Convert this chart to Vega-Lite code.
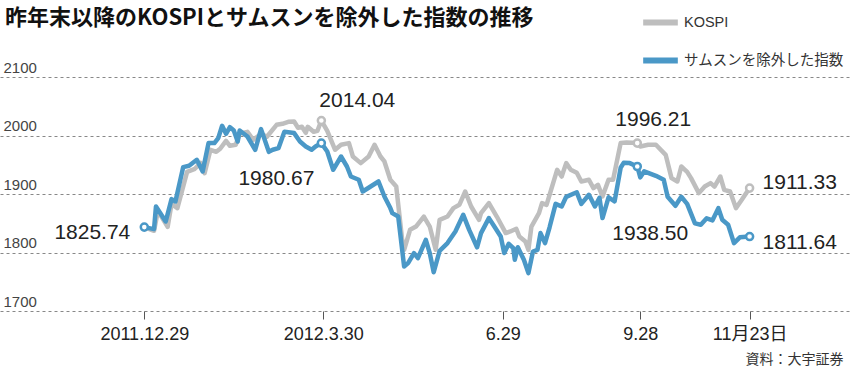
{
  "$schema": "https://vega.github.io/schema/vega-lite/v6.json",
  "width": 850,
  "height": 234,
  "autosize": {"type": "none"},
  "padding": {"left": 0, "top": 77, "right": 0, "bottom": 60},
  "background": "white",
  "config": {"view": {"stroke": null}, "font": "Liberation Sans"},
  "title": {
    "text": "昨年末以降のKOSPIとサムスンを除外した指数の推移",
    "anchor": "start",
    "frame": "group",
    "orient": "top",
    "font": "Noto Sans CJK JP",
    "fontSize": 22,
    "fontWeight": "bold",
    "color": "#111111",
    "offset": 0,
    "dx": 5,
    "dy": 28
  },
  "datasets": {
    "kospi": [
      {"day": 0, "value": 1843.4}, {"day": 5, "value": 1837.1}, {"day": 7, "value": 1871.3}, {"day": 12, "value": 1843.9},
      {"day": 14, "value": 1883.2}, {"day": 17, "value": 1875.9}, {"day": 22, "value": 1937.9}, {"day": 26, "value": 1943.1},
      {"day": 29, "value": 1953.3}, {"day": 31, "value": 1935.7}, {"day": 34, "value": 1975.6}, {"day": 37, "value": 1972.1},
      {"day": 39, "value": 1977.3}, {"day": 42, "value": 1990.9}, {"day": 44, "value": 1982.4}, {"day": 47, "value": 1984.1},
      {"day": 49, "value": 2002.9}, {"day": 53, "value": 2006.3}, {"day": 56, "value": 1992.6}, {"day": 60, "value": 2002.9},
      {"day": 63, "value": 1997.8}, {"day": 68, "value": 2018.3}, {"day": 71, "value": 2020.0}, {"day": 74, "value": 2023.4},
      {"day": 77, "value": 2023.9}, {"day": 79, "value": 2013.2}, {"day": 81, "value": 2014.9}, {"day": 83, "value": 2004.6},
      {"day": 84, "value": 2014.9}, {"day": 87, "value": 2006.3}, {"day": 89, "value": 2008.0},
      {"day": 91, "value": 2025.6, "label": "2014.04"},
      {"day": 94, "value": 2008.0}, {"day": 98, "value": 1975.6}, {"day": 101, "value": 1984.1}, {"day": 105, "value": 1987.0},
      {"day": 107, "value": 1964.1}, {"day": 111, "value": 1952.8}, {"day": 115, "value": 1964.1}, {"day": 118, "value": 1984.1},
      {"day": 121, "value": 1964.1}, {"day": 123, "value": 1955.6}, {"day": 126, "value": 1924.3}, {"day": 129, "value": 1912.8},
      {"day": 132, "value": 1821.7}, {"day": 133, "value": 1804.6}, {"day": 136, "value": 1838.8}, {"day": 139, "value": 1844.4},
      {"day": 143, "value": 1861.5}, {"day": 146, "value": 1844.4}, {"day": 149, "value": 1804.6}, {"day": 151, "value": 1855.9},
      {"day": 155, "value": 1861.5}, {"day": 158, "value": 1875.9}, {"day": 161, "value": 1881.5}, {"day": 164, "value": 1904.3},
      {"day": 167, "value": 1878.6}, {"day": 171, "value": 1855.9}, {"day": 172, "value": 1867.4}, {"day": 176, "value": 1884.4},
      {"day": 180, "value": 1861.5}, {"day": 185, "value": 1833.2}, {"day": 188, "value": 1835.9}, {"day": 192, "value": 1840.5},
      {"day": 194, "value": 1827.4}, {"day": 198, "value": 1818.8}, {"day": 200, "value": 1804.6}, {"day": 202, "value": 1844.4},
      {"day": 207, "value": 1867.4}, {"day": 209, "value": 1884.4}, {"day": 212, "value": 1881.5}, {"day": 215, "value": 1907.2},
      {"day": 219, "value": 1941.4}, {"day": 222, "value": 1929.9}, {"day": 225, "value": 1952.8}, {"day": 228, "value": 1941.4},
      {"day": 232, "value": 1936.2}, {"day": 235, "value": 1921.4}, {"day": 240, "value": 1924.3}, {"day": 243, "value": 1910.1},
      {"day": 246, "value": 1915.7}, {"day": 249, "value": 1895.7}, {"day": 253, "value": 1924.3}, {"day": 256, "value": 1924.3},
      {"day": 261, "value": 1987.0}, {"day": 265, "value": 1988.0},
      {"day": 272, "value": 1987.0, "label": "1996.21"},
      {"day": 274, "value": 1981.2}, {"day": 278, "value": 1984.1}, {"day": 282, "value": 1984.1}, {"day": 287, "value": 1967.0},
      {"day": 290, "value": 1927.2}, {"day": 293, "value": 1921.4}, {"day": 295, "value": 1947.0}, {"day": 298, "value": 1937.9},
      {"day": 300, "value": 1927.2}, {"day": 304, "value": 1901.5}, {"day": 307, "value": 1912.8}, {"day": 310, "value": 1918.6},
      {"day": 312, "value": 1912.8}, {"day": 315, "value": 1929.9}, {"day": 317, "value": 1907.2}, {"day": 320, "value": 1904.3},
      {"day": 323, "value": 1875.9}, {"day": 326, "value": 1890.1},
      {"day": 330, "value": 1910.1, "label": "1911.33"}
    ],
    "ex": [
      {"day": 0, "value": 1843.4, "label": "1825.74"},
      {"day": 5, "value": 1840.0}, {"day": 6, "value": 1878.6}, {"day": 11, "value": 1853.0}, {"day": 14, "value": 1891.3},
      {"day": 16, "value": 1887.2}, {"day": 20, "value": 1946.0}, {"day": 23, "value": 1948.2}, {"day": 27, "value": 1958.5},
      {"day": 30, "value": 1938.5}, {"day": 33, "value": 1987.0}, {"day": 36, "value": 1987.0}, {"day": 38, "value": 1995.6},
      {"day": 40, "value": 2016.6}, {"day": 42, "value": 2002.9}, {"day": 44, "value": 2014.4}, {"day": 46, "value": 2008.5},
      {"day": 48, "value": 1989.7}, {"day": 49, "value": 2008.5}, {"day": 53, "value": 1998.3}, {"day": 57, "value": 1975.6},
      {"day": 60, "value": 2010.9}, {"day": 64, "value": 1972.1}, {"day": 66, "value": 1975.6}, {"day": 69, "value": 1978.5},
      {"day": 72, "value": 2006.3}, {"day": 77, "value": 2004.1}, {"day": 80, "value": 1989.7}, {"day": 83, "value": 1981.2},
      {"day": 86, "value": 1975.6}, {"day": 88, "value": 1981.2},
      {"day": 91, "value": 1987.0, "label": "1980.67"},
      {"day": 94, "value": 1972.6}, {"day": 97, "value": 1941.4}, {"day": 101, "value": 1964.1}, {"day": 104, "value": 1947.0},
      {"day": 106, "value": 1929.9}, {"day": 110, "value": 1924.3}, {"day": 112, "value": 1904.3}, {"day": 116, "value": 1912.8},
      {"day": 120, "value": 1921.4}, {"day": 123, "value": 1895.7}, {"day": 126, "value": 1875.9}, {"day": 127, "value": 1867.4},
      {"day": 130, "value": 1861.5}, {"day": 133, "value": 1776.1}, {"day": 135, "value": 1781.9}, {"day": 138, "value": 1799.0},
      {"day": 140, "value": 1790.4}, {"day": 144, "value": 1821.7}, {"day": 146, "value": 1799.0}, {"day": 148, "value": 1766.2},
      {"day": 151, "value": 1802.9}, {"day": 155, "value": 1816.1}, {"day": 159, "value": 1835.9}, {"day": 163, "value": 1864.4},
      {"day": 166, "value": 1838.8}, {"day": 170, "value": 1808.9}, {"day": 172, "value": 1833.2}, {"day": 176, "value": 1858.8},
      {"day": 179, "value": 1843.1}, {"day": 182, "value": 1827.4}, {"day": 184, "value": 1799.0}, {"day": 187, "value": 1814.9},
      {"day": 190, "value": 1807.5}, {"day": 191, "value": 1787.5}, {"day": 193, "value": 1808.9}, {"day": 197, "value": 1787.5},
      {"day": 200, "value": 1764.8}, {"day": 203, "value": 1801.7}, {"day": 206, "value": 1804.6}, {"day": 208, "value": 1833.2},
      {"day": 211, "value": 1816.1}, {"day": 214, "value": 1843.1}, {"day": 218, "value": 1883.2}, {"day": 222, "value": 1878.6},
      {"day": 225, "value": 1895.2}, {"day": 232, "value": 1902.9}, {"day": 235, "value": 1883.2}, {"day": 240, "value": 1898.6},
      {"day": 244, "value": 1878.6}, {"day": 247, "value": 1893.5}, {"day": 249, "value": 1858.8}, {"day": 253, "value": 1894.4},
      {"day": 257, "value": 1887.5}, {"day": 261, "value": 1944.8}, {"day": 263, "value": 1953.3}, {"day": 267, "value": 1952.8},
      {"day": 272, "value": 1947.0, "label": "1938.50"},
      {"day": 274, "value": 1928.5}, {"day": 276, "value": 1938.8}, {"day": 282, "value": 1931.1}, {"day": 286, "value": 1924.3},
      {"day": 288, "value": 1895.2}, {"day": 292, "value": 1879.8}, {"day": 295, "value": 1895.2}, {"day": 298, "value": 1883.2},
      {"day": 302, "value": 1849.9}, {"day": 305, "value": 1847.4}, {"day": 308, "value": 1858.5}, {"day": 311, "value": 1855.0},
      {"day": 314, "value": 1875.9}, {"day": 316, "value": 1855.9}, {"day": 319, "value": 1847.4}, {"day": 322, "value": 1816.1},
      {"day": 325, "value": 1826.0},
      {"day": 330, "value": 1827.3, "label": "1811.64"}
    ]
  },
  "encoding": {
    "x": {
      "field": "day",
      "type": "quantitative",
      "scale": {"domain": [-74.2, 0, 92, 183, 274, 330, 381.4], "range": [0, 144.3, 323.3, 502.7, 640.3, 749.6, 850], "nice": false, "zero": false},
      "axis": {
        "values": [0, 92, 183, 274, 330],
        "labelExpr": "datum.value == 0 ? '2011.12.29' : datum.value == 92 ? '2012.3.30' : datum.value == 183 ? '6.29' : datum.value == 274 ? '9.28' : '11月23日'",
        "domain": false,
        "grid": false,
        "ticks": true,
        "tickSize": 8,
        "tickColor": "#555555",
        "tickWidth": 1,
        "labelFont": "Liberation Sans, Noto Sans CJK JP",
        "labelFontSize": 18,
        "labelColor": "#222222",
        "labelPadding": 6,
        "labelFlush": false,
        "labelOverlap": false,
        "title": "資料：大宇証券",
        "titleFont": "Noto Sans CJK JP",
        "titleFontSize": 14,
        "titleFontWeight": "normal",
        "titleColor": "#333333",
        "titleX": 843,
        "titleY": 52,
        "titleAlign": "right",
        "titleAnchor": "end",
        "titleBaseline": "alphabetic"
      }
    },
    "y": {
      "field": "value",
      "type": "quantitative",
      "scale": {"domain": [1700, 2100], "nice": false, "zero": false},
      "axis": {
        "values": [1700, 1800, 1900, 2000, 2100],
        "format": "d",
        "domain": false,
        "ticks": false,
        "tickSize": 0,
        "labelAlign": "left",
        "labelBaseline": "alphabetic",
        "labelPadding": -3,
        "labelOffset": -5,
        "labelFont": "Liberation Sans",
        "labelFontSize": 15,
        "labelColor": "#444444",
        "grid": true,
        "gridColor": "#888888",
        "gridDash": [3, 3],
        "gridWidth": 1,
        "title": null
      }
    }
  },
  "layer": [
    {
      "data": {"name": "kospi"},
      "mark": {"type": "line", "strokeWidth": 4.5, "strokeJoin": "round", "strokeCap": "round"},
      "encoding": {
        "color": {
          "datum": "KOSPI",
          "type": "nominal",
          "scale": {"domain": ["KOSPI", "サムスンを除外した指数"], "range": ["#bebebe", "#4a98c7"]},
          "legend": {
            "orient": "none",
            "legendX": 640,
            "legendY": -75,
            "title": null,
            "symbolType": "stroke",
            "symbolStrokeWidth": 6,
            "symbolSize": 1200,
            "labelFont": "Liberation Sans, Noto Sans CJK JP",
            "labelFontSize": 14.5,
            "labelColor": "#333333",
            "labelOffset": 3,
            "labelLimit": 300,
            "rowPadding": 5
          }
        }
      }
    },
    {
      "data": {"name": "ex"},
      "mark": {"type": "line", "strokeWidth": 4.5, "strokeJoin": "round", "strokeCap": "round"},
      "encoding": {"color": {"datum": "サムスンを除外した指数", "type": "nominal"}}
    },
    {
      "data": {"name": "kospi"},
      "transform": [{"filter": "isValid(datum.label)"}],
      "mark": {"type": "point", "shape": "circle", "filled": true, "fill": "white", "stroke": "#bebebe", "strokeWidth": 2.5, "size": 50, "opacity": 1}
    },
    {
      "data": {"name": "ex"},
      "transform": [{"filter": "isValid(datum.label)"}],
      "mark": {"type": "point", "shape": "circle", "filled": true, "fill": "white", "stroke": "#4a98c7", "strokeWidth": 2.5, "size": 50, "opacity": 1}
    },
    {
      "data": {"name": "ex"},
      "transform": [{"filter": "datum.label == '1825.74'"}],
      "mark": {"type": "text", "align": "right", "baseline": "alphabetic", "dx": -14, "dy": 12, "font": "Liberation Sans", "fontSize": 21, "color": "#222222"},
      "encoding": {"text": {"field": "label"}}
    },
    {
      "data": {"name": "kospi"},
      "transform": [{"filter": "datum.label == '2014.04'"}],
      "mark": {"type": "text", "align": "left", "baseline": "alphabetic", "dx": -2, "dy": -14, "font": "Liberation Sans", "fontSize": 21, "color": "#222222"},
      "encoding": {"text": {"field": "label"}}
    },
    {
      "data": {"name": "ex"},
      "transform": [{"filter": "datum.label == '1980.67'"}],
      "mark": {"type": "text", "align": "right", "baseline": "alphabetic", "dx": -7, "dy": 42, "font": "Liberation Sans", "fontSize": 21, "color": "#222222"},
      "encoding": {"text": {"field": "label"}}
    },
    {
      "data": {"name": "kospi"},
      "transform": [{"filter": "datum.label == '1996.21'"}],
      "mark": {"type": "text", "align": "left", "baseline": "alphabetic", "dx": -22, "dy": -17, "font": "Liberation Sans", "fontSize": 21, "color": "#222222"},
      "encoding": {"text": {"field": "label"}}
    },
    {
      "data": {"name": "ex"},
      "transform": [{"filter": "datum.label == '1938.50'"}],
      "mark": {"type": "text", "align": "left", "baseline": "alphabetic", "dx": -25, "dy": 73, "font": "Liberation Sans", "fontSize": 21, "color": "#222222"},
      "encoding": {"text": {"field": "label"}}
    },
    {
      "data": {"name": "kospi"},
      "transform": [{"filter": "datum.label == '1911.33'"}],
      "mark": {"type": "text", "align": "left", "baseline": "alphabetic", "dx": 13, "dy": 1, "font": "Liberation Sans", "fontSize": 21, "color": "#222222"},
      "encoding": {"text": {"field": "label"}}
    },
    {
      "data": {"name": "ex"},
      "transform": [{"filter": "datum.label == '1811.64'"}],
      "mark": {"type": "text", "align": "left", "baseline": "alphabetic", "dx": 13, "dy": 12, "font": "Liberation Sans", "fontSize": 21, "color": "#222222"},
      "encoding": {"text": {"field": "label"}}
    }
  ]
}
